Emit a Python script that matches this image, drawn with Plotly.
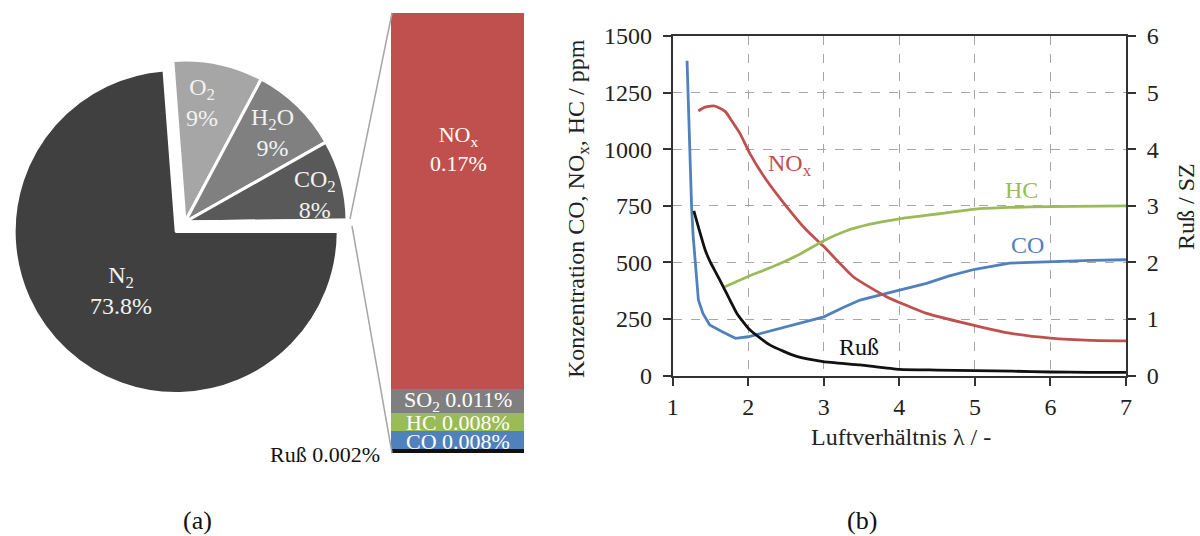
import plotly.graph_objects as go

# ---------------- data ----------------
pie_names = ["N<sub>2</sub>", "O<sub>2</sub>", "H<sub>2</sub>O", "CO<sub>2</sub>", "Rest"]
pie_values = [73.8, 9, 9, 8, 0.2]
pie_colors = ["#404040", "#A6A6A6", "#808080", "#595959", "#D9D9D9"]

bar_names = ["Ruß", "CO", "HC", "SO<sub>2</sub>", "NO<sub>x</sub>"]
bar_values = [0.002, 0.008, 0.008, 0.011, 0.17]
bar_colors = ["#111111", "#4F81BD", "#9BBB59", "#7F7F7F", "#C0504D"]

co_lambda = [1.19, 1.22, 1.25, 1.27, 1.30, 1.34, 1.40, 1.49, 1.65, 1.83, 2.0, 2.2, 2.42, 2.7,
             3.0, 3.25, 3.48, 3.83, 4.1, 4.36, 4.65, 5.0, 5.46, 6.0, 6.54, 7.0]
co_ppm = [1391, 1050, 746, 620, 511, 334, 275, 224, 195, 165, 172, 190, 209, 232,
          260, 300, 334, 364, 385, 408, 440, 470, 497, 504, 509, 512]

nox_lambda = [1.34, 1.42, 1.54, 1.62, 1.70, 1.76, 1.89, 2.02, 2.24, 2.51, 2.77, 3.0, 3.39,
              3.83, 4.36, 5.07, 5.46, 6.0, 6.54, 7.0]
nox_ppm = [1169, 1185, 1191, 1182, 1165, 1136, 1070, 982, 864, 746, 643, 570, 437,
           349, 275, 216, 188, 166, 156, 154]

hc_lambda = [1.69, 2.0, 2.4, 2.7, 3.0, 3.3, 3.6, 4.0, 4.4, 4.6, 5.0, 5.46, 6.0, 7.0]
hc_ppm = [393, 438, 492, 540, 596, 640, 668, 693, 710, 718, 736, 743, 747, 750]

russ_lambda = [1.28, 1.35, 1.43, 1.50, 1.58, 1.67, 1.85, 2.02, 2.29, 2.64, 2.99, 3.48,
               4.0, 4.5, 5.0, 5.5, 6.0, 6.5, 7.0]
russ_sz = [2.91, 2.58, 2.22, 2.0, 1.8, 1.57, 1.10, 0.81, 0.54, 0.34, 0.25, 0.19,
           0.11, 0.10, 0.09, 0.08, 0.065, 0.06, 0.06]

x_ticks = [1, 2, 3, 4, 5, 6, 7]
y_ticks = [0, 250, 500, 750, 1000, 1250, 1500]
y2_ticks = [0, 1, 2, 3, 4, 5, 6]

# ---------------- helpers ----------------
W, H = 1200, 536
FONT = "Liberation Serif"
FS = 24


def px(x):
    return x / W


def py(y):
    return 1 - y / H


def ann(x, y, text, size=FS, color="#222222", ref="paper", **kw):
    d = dict(x=px(x) if ref == "paper" else x, y=py(y) if ref == "paper" else y,
             xref="paper" if ref == "paper" else "x", yref="paper" if ref == "paper" else "y",
             showarrow=False, text=text, xanchor="center", yanchor="middle",
             font=dict(family=FONT, size=size, color=color))
    d.update(kw)
    return d


fig = go.Figure()

# ---------------- pie ----------------
fig.add_trace(go.Pie(
    values=pie_values, labels=pie_names, sort=False, direction="clockwise", rotation=90,
    pull=[0.08, 0, 0, 0, 0],
    marker=dict(colors=pie_colors, line=dict(color="white", width=3)),
    textinfo="none", hoverinfo="label+value", showlegend=False,
    domain=dict(x=[px(10), px(360)], y=[py(397), py(47)]),
))

# ---------------- stacked bar ----------------
for n, v, c in zip(bar_names, bar_values, bar_colors):
    fig.add_trace(go.Bar(x=[0], y=[v], name=n, marker=dict(color=c, line=dict(width=0)),
                         width=1, xaxis="x3", yaxis="y3", showlegend=False))

# ---------------- lines ----------------
fig.add_trace(go.Scatter(x=co_lambda, y=co_ppm, mode="lines", name="CO",
                         line=dict(color="#4F81BD", width=2.8), showlegend=False))
fig.add_trace(go.Scatter(x=nox_lambda, y=nox_ppm, mode="lines", name="NOx",
                         line=dict(color="#C0504D", width=2.8, shape="spline", smoothing=0.5),
                         showlegend=False))
fig.add_trace(go.Scatter(x=hc_lambda, y=hc_ppm, mode="lines", name="HC",
                         line=dict(color="#9BBB59", width=2.8, shape="spline", smoothing=0.5),
                         showlegend=False))
fig.add_trace(go.Scatter(x=russ_lambda, y=russ_sz, mode="lines", name="Ruß", yaxis="y2",
                         line=dict(color="#111111", width=2.8, shape="spline", smoothing=0.5),
                         showlegend=False))

axis_col = "#333333"
grid = dict(showgrid=True, gridcolor="#A6A6A6", griddash="dash", gridwidth=1)
tickfont = dict(family=FONT, size=FS, color="#222222")

annotations = []

# pie labels
pie_label_pos = [(121, 290), (202, 102), (272, 133), (315, 194)]
for (x, y), n, v in zip(pie_label_pos, pie_names, pie_values):
    annotations.append(ann(x, y, f"{n}<br>{v:g}%", color="#F2F2F2"))

# bar labels
bar_label_pos = [None, (458, 441), (458, 422), (458, 401), (458, 149)]
for pos, n, v in zip(bar_label_pos, bar_names, bar_values):
    if pos is None:
        continue
    sep = "<br>" if n.startswith("NO") else " "
    annotations.append(ann(pos[0], pos[1], f"{n}{sep}{v:g}%", size=22, color="white"))
annotations.append(ann(382, 454, f"{bar_names[0]} {bar_values[0]:g}%", size=22,
                       color="#111111", xanchor="right"))

# curve labels
annotations += [
    ann(2.55, 930, "NO<sub>x</sub>", color="#C0504D", ref="data"),
    ann(5.62, 820, "HC", color="#9BBB59", ref="data"),
    ann(5.70, 577, "CO", color="#4F81BD", ref="data"),
    ann(3.46, 125, "Ruß", color="#111111", ref="data"),
]

# axis titles and captions
annotations += [
    ann(578, 209, "Konzentration CO, NO<sub>x</sub>, HC / ppm", textangle=-90),
    ann(1186, 207, "Ruß / SZ", textangle=-90),
    ann(901, 437, "Luftverhältnis λ / -"),
    ann(197, 520, "(a)", size=26, color="#111111"),
    ann(862, 520, "(b)", size=26, color="#111111"),
]

shapes = [
    dict(type="line", xref="paper", yref="paper", x0=px(350), y0=py(219), x1=px(392), y1=py(13),
         line=dict(color="#A6A6A6", width=1.5)),
    dict(type="line", xref="paper", yref="paper", x0=px(352), y0=py(226), x1=px(392), y1=py(453),
         line=dict(color="#A6A6A6", width=1.5)),
]

fig.update_layout(
    width=W, height=H, margin=dict(l=0, r=0, t=0, b=0, pad=0, autoexpand=False),
    paper_bgcolor="white", plot_bgcolor="white",
    font=dict(family=FONT, size=FS, color="#222222"),
    barmode="stack", bargap=0,
    xaxis=dict(domain=[px(672.7), px(1126)], range=[1, 7], tickvals=x_ticks,
               showline=True, linecolor=axis_col, linewidth=2, mirror=True,
               ticks="outside", ticklen=8, tickwidth=2, tickcolor=axis_col,
               tickfont=tickfont, zeroline=False, automargin=False, **grid),
    yaxis=dict(domain=[py(375.7), py(36)], range=[0, 1500], tickvals=y_ticks,
               showline=True, linecolor=axis_col, linewidth=2,
               ticks="outside", ticklen=8, tickwidth=2, tickcolor=axis_col,
               tickfont=tickfont, zeroline=False, automargin=False, ticklabelstandoff=6, **grid),
    yaxis2=dict(overlaying="y", side="right", range=[0, 6], tickvals=y2_ticks,
                showline=True, linecolor=axis_col, linewidth=2,
                ticks="outside", ticklen=8, tickwidth=2, tickcolor=axis_col,
                tickfont=tickfont, zeroline=False, showgrid=False, automargin=False,
                ticklabelstandoff=6),
    xaxis3=dict(domain=[px(391), px(524)], range=[-0.5, 0.5], visible=False, anchor="y3"),
    yaxis3=dict(domain=[py(453), py(13)], range=[0, sum(bar_values)], visible=False, anchor="x3"),
    annotations=annotations, shapes=shapes,
)

fig.write_html("out.html")
